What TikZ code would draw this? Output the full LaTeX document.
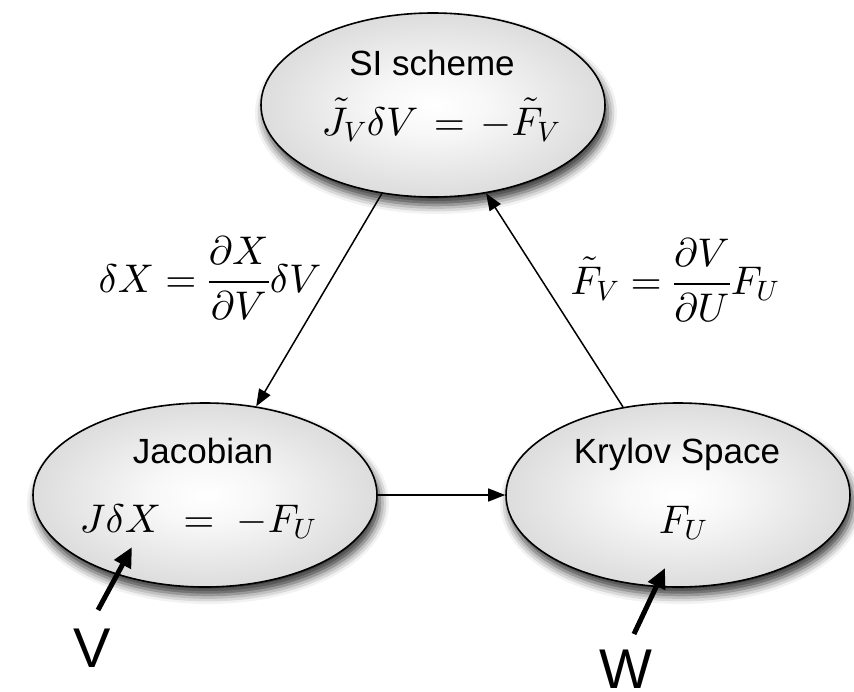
\documentclass[tikz,border=0pt]{standalone}
\usepackage{fontspec}
\newfontfamily\lsans{Liberation Sans}
\DeclareFontShape{OML}{cmm}{m}{it}{<->cmmi10}{}
\DeclareFontShape{OMS}{cmsy}{m}{n}{<->cmsy10}{}
\DeclareFontShape{OT1}{cmr}{m}{n}{<->cmr10}{}
\DeclareFontShape{OMX}{cmex}{m}{n}{<->cmex10}{}
\usetikzlibrary{arrows.meta,shapes.geometric,shadows.blur}
\pgfdeclareradialshading{ellshade}{\pgfpoint{0bp}{0bp}}{color(0bp)=(white); color(8bp)=(white!97!black); color(50bp)=(black!29)}
\begin{document}
\begin{tikzpicture}[x=1pt,y=-1pt,
  ell/.style={ellipse, draw, line width=1.6pt, minimum width=344pt, minimum height=184pt,
    inner sep=0pt, shade, shading=ellshade,
    blur shadow={shadow xshift=3pt, shadow yshift=-8pt, shadow blur radius=9pt, shadow opacity=80}},
  lbl/.style={font=\lsans\fontsize{35}{42}\selectfont, anchor=base, inner sep=0pt},
  eq/.style={font=\fontsize{40}{48}\selectfont, anchor=base, inner sep=0pt},
  big/.style={font=\lsans\fontsize{56}{64}\selectfont, inner sep=0pt},
  conn/.style={line width=1.5pt, -{Triangle[length=17pt,width=13pt]}},
  inarr/.style={line width=5pt, -{Triangle[length=20pt,width=18pt]}}]
\useasboundingbox (0,0) rectangle (854,691);
% ellipses
\node[ell] (top) at (433,105) {};
\node[ell] (left) at (205,495) {};
\node[ell] (right) at (678,495) {};
% connectors
\draw[conn] (top.240.5) -- (left.60);
\draw[conn] (right.122) -- (top.301.8);
\draw[conn] (left.east) -- (right.west);
% texts in ellipses
\node[lbl] (sit) at (432,75) {SI scheme};
\node[eq] (sieq) at (441,135) {$\tilde J_V\delta V\mskip2mu=\mskip2mu-\tilde F_V$};
\node[lbl] (jact) at (203,463) {Jacobian};
\node[eq] (jaceq) at (198,532) {$J\delta X\mskip5mu=\mskip5mu-F_U$};
\node[lbl] (kryt) at (677,463) {Krylov Space};
\node[eq] (kryeq) at (683,533) {$F_U$};
% edge labels
\node[eq] (lab1) at (210,292) {$\delta X=\displaystyle\frac{\partial X}{\partial V}\delta V$};
\node[eq] (lab2) at (675,294) {$\tilde F_V=\displaystyle\frac{\partial V}{\partial U}F_U$};
% input arrows
\coordinate (vtail) at (98,610);
\coordinate (vtip) at (132,547);
\coordinate (wtail) at (634,634);
\coordinate (wtip) at (665,568);
\draw[inarr] (vtail) -- (vtip);
\draw[inarr] (wtail) -- (wtip);
\node[big] (vlab) at (92,648) {V};
\node[big] (wlab) at (626,669) {W};
\end{tikzpicture}
\end{document}
